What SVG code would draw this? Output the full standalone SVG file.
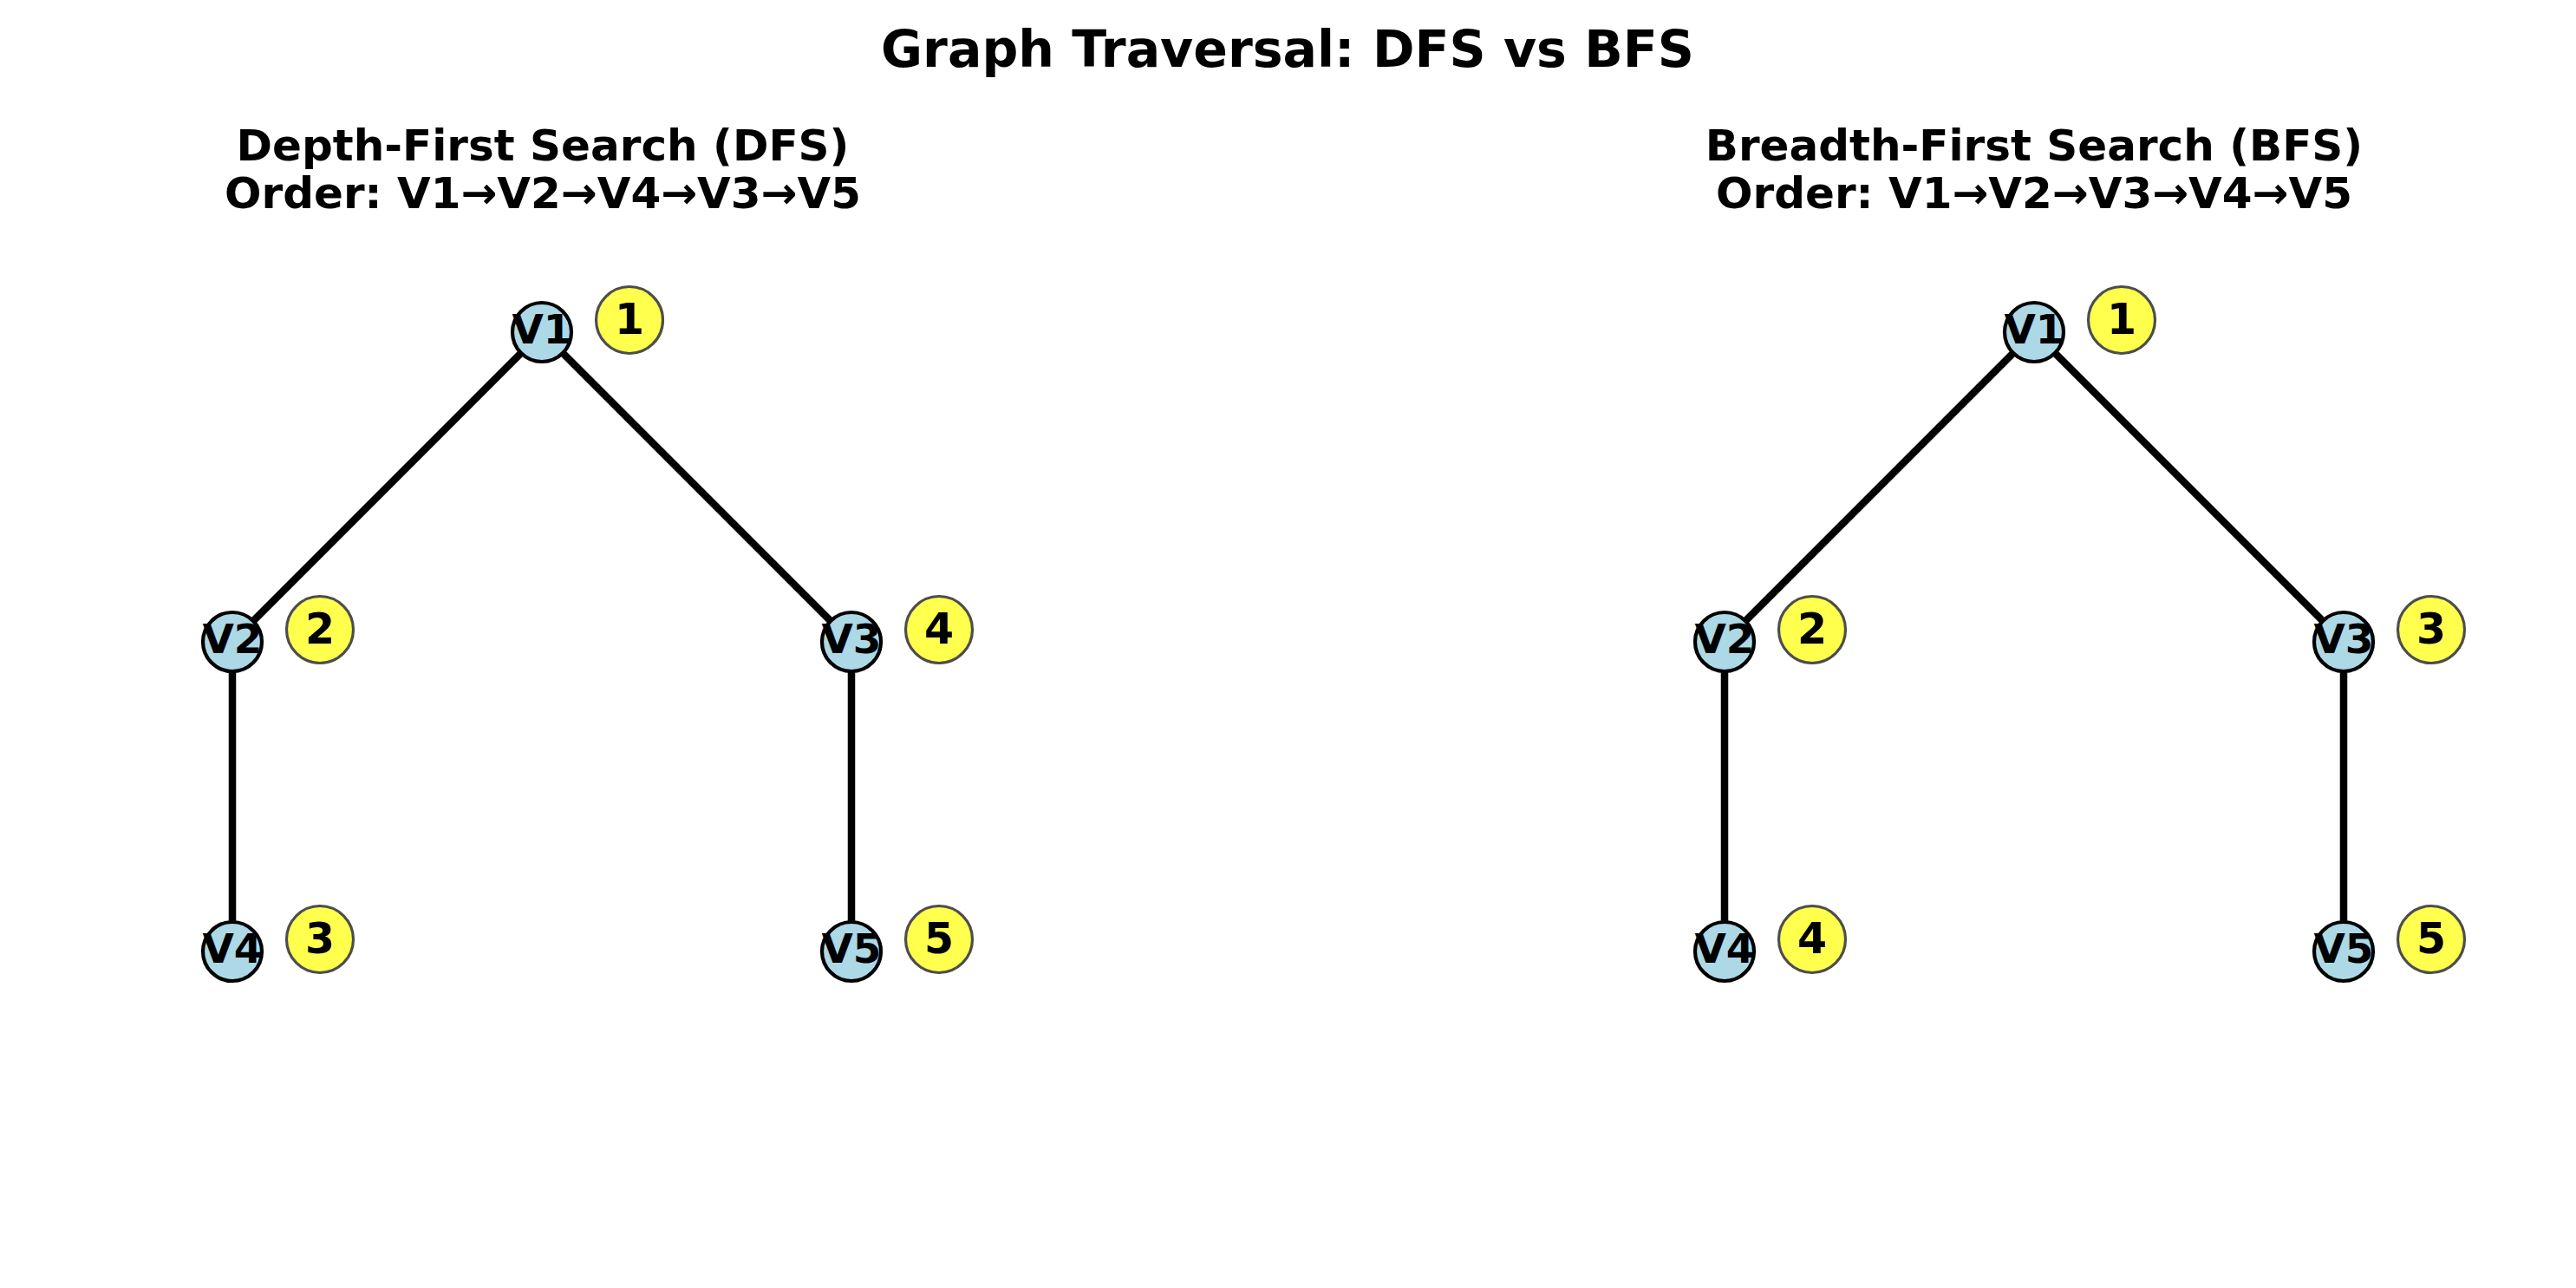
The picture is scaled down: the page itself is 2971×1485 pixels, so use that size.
<svg xmlns="http://www.w3.org/2000/svg" width="2971" height="1485" viewBox="0 0 2971 1485">
<style>
text{font-family:"DejaVu Sans","Liberation Sans",sans-serif;font-weight:bold;fill:#000;text-anchor:middle}
.title{font-size:58.5px}
.sub{font-size:50px}
.vn{font-size:47px}
.bd{font-size:49px}
.edge{stroke:#000;stroke-width:8.5;stroke-linecap:butt}
.node{fill:#ADD8E6;stroke:#000;stroke-width:4.2}
.badge{fill:#FFFF4D;stroke:#4D4D4D;stroke-width:3.2}
</style>
<rect width="2971" height="1485" fill="#fff"/>
<text class="title" x="1485" y="77">Graph Traversal: DFS vs BFS</text>
<text class="sub" x="626" y="185">Depth-First Search (DFS)</text>
<text class="sub" x="626" y="240">Order: V1→V2→V4→V3→V5</text>
<text class="sub" x="2346" y="185">Breadth-First Search (BFS)</text>
<text class="sub" x="2346" y="240">Order: V1→V2→V3→V4→V5</text>
<g id="connectors">
<line class="edge" x1="625" y1="383" x2="268" y2="740"/>
<line class="edge" x1="625" y1="383" x2="982" y2="740"/>
<line class="edge" x1="268" y1="740" x2="268" y2="1097"/>
<line class="edge" x1="982" y1="740" x2="982" y2="1097"/>
<line class="edge" x1="2346" y1="383" x2="1989" y2="740"/>
<line class="edge" x1="2346" y1="383" x2="2703" y2="740"/>
<line class="edge" x1="1989" y1="740" x2="1989" y2="1097"/>
<line class="edge" x1="2703" y1="740" x2="2703" y2="1097"/>
</g>
<g id="dfs-V1"><circle class="node" cx="625" cy="383" r="34"/><text class="vn" x="625" y="396">V1</text><circle class="badge" cx="726" cy="369" r="38.5"/><text class="bd" x="726" y="385">1</text></g>
<g id="dfs-V2"><circle class="node" cx="268" cy="740" r="34"/><text class="vn" x="268" y="753">V2</text><circle class="badge" cx="369" cy="726" r="38.5"/><text class="bd" x="369" y="742">2</text></g>
<g id="dfs-V3"><circle class="node" cx="982" cy="740" r="34"/><text class="vn" x="982" y="753">V3</text><circle class="badge" cx="1083" cy="726" r="38.5"/><text class="bd" x="1083" y="742">4</text></g>
<g id="dfs-V4"><circle class="node" cx="268" cy="1097" r="34"/><text class="vn" x="268" y="1110">V4</text><circle class="badge" cx="369" cy="1083" r="38.5"/><text class="bd" x="369" y="1099">3</text></g>
<g id="dfs-V5"><circle class="node" cx="982" cy="1097" r="34"/><text class="vn" x="982" y="1110">V5</text><circle class="badge" cx="1083" cy="1083" r="38.5"/><text class="bd" x="1083" y="1099">5</text></g>
<g id="bfs-V1"><circle class="node" cx="2346" cy="383" r="34"/><text class="vn" x="2346" y="396">V1</text><circle class="badge" cx="2447" cy="369" r="38.5"/><text class="bd" x="2447" y="385">1</text></g>
<g id="bfs-V2"><circle class="node" cx="1989" cy="740" r="34"/><text class="vn" x="1989" y="753">V2</text><circle class="badge" cx="2090" cy="726" r="38.5"/><text class="bd" x="2090" y="742">2</text></g>
<g id="bfs-V3"><circle class="node" cx="2703" cy="740" r="34"/><text class="vn" x="2703" y="753">V3</text><circle class="badge" cx="2804" cy="726" r="38.5"/><text class="bd" x="2804" y="742">3</text></g>
<g id="bfs-V4"><circle class="node" cx="1989" cy="1097" r="34"/><text class="vn" x="1989" y="1110">V4</text><circle class="badge" cx="2090" cy="1083" r="38.5"/><text class="bd" x="2090" y="1099">4</text></g>
<g id="bfs-V5"><circle class="node" cx="2703" cy="1097" r="34"/><text class="vn" x="2703" y="1110">V5</text><circle class="badge" cx="2804" cy="1083" r="38.5"/><text class="bd" x="2804" y="1099">5</text></g>
</svg>
